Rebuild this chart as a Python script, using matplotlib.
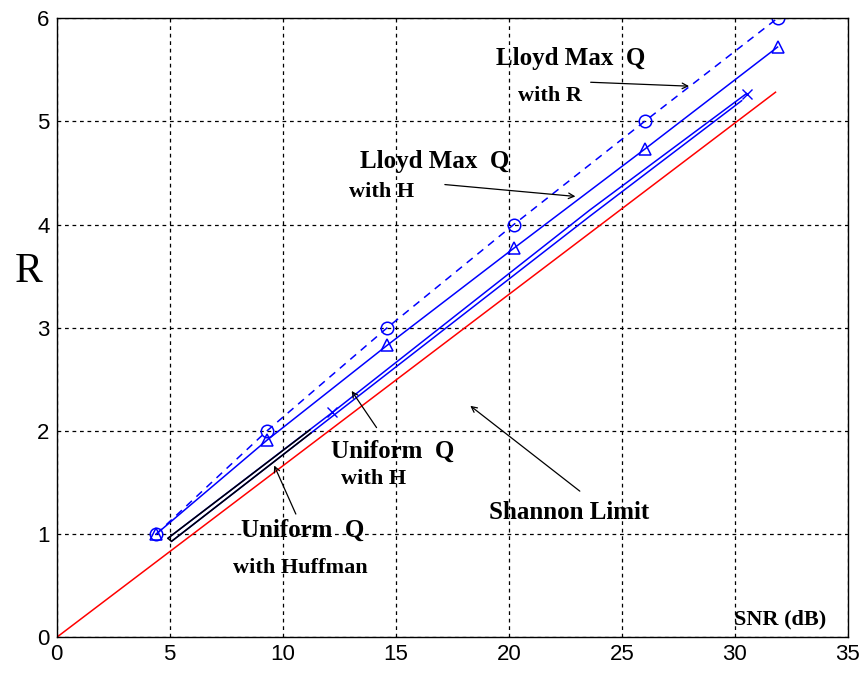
import matplotlib
matplotlib.use('Agg')
import matplotlib.pyplot as plt

# Lloyd-Max quantizer: SNR (dB) for 1..6 bits, fixed rate and entropy
lm_snr = [4.40, 9.30, 14.62, 20.22, 26.01, 31.89]
lm_rate = [1, 2, 3, 4, 5, 6]
lm_entropy = [1.0, 1.91, 2.83, 3.77, 4.73, 5.72]

# uniform quantizer with entropy coding (two curves)
uq_snr = [4.92, 12.2, 23.58, 30.52]
uq_h = [0.96, 2.18, 4.14, 5.27]
uq2_snr = [5.08, 23.58, 30.3]
uq2_h = [0.93, 4.08, 5.20]

# Huffman coded uniform quantizer, low-rate part
huff_snr = [11.2, 4.92, 5.08, 11.25]
huff_r = [2.01, 0.96, 0.93, 1.98]

# Shannon limit R = SNR / 6.02
sh_snr = [0, 31.8]
sh_r = [0, 31.8 / 6.02]

xticks = [0, 5, 10, 15, 20, 25, 30, 35]
yticks = [0, 1, 2, 3, 4, 5, 6]

tick_font = ['Liberation Sans', 'DejaVu Sans']
lab_font = ['Liberation Serif', 'DejaVu Serif']

fig = plt.figure(figsize=(8.59, 6.73), dpi=100)
ax = fig.add_axes([0.066, 0.053, 0.921, 0.920])

blue = '#0000ff'
ax.plot(sh_snr, sh_r, color='#ff0000', lw=1.1)
ax.plot(uq2_snr, uq2_h, color=blue, lw=1.1)
ax.plot(uq_snr, uq_h, color=blue, lw=1.1, marker='x', markersize=7,
        markevery=[1, 3])
ax.plot(huff_snr, huff_r, color='k', lw=1.1)
ax.plot(lm_snr, lm_entropy, color=blue, lw=1.1, marker='^', markersize=9,
        markerfacecolor='none', markeredgewidth=1.1)
ax.plot(lm_snr, lm_rate, color=blue, lw=1.1, linestyle=(0, (5, 4)),
        marker='o', markersize=9, markerfacecolor='none', markeredgewidth=1.1)

ax.set_xlim(0, 35)
ax.set_ylim(0, 6)
ax.set_xticks(xticks)
ax.set_yticks(yticks)
ax.grid(True, color='k', linestyle=(0, (3, 3)), lw=0.9)
ax.tick_params(length=0, labelsize=16, pad=5)
for lab in ax.get_xticklabels() + ax.get_yticklabels():
    lab.set_family(tick_font)
for s in ax.spines.values():
    s.set_linewidth(1.0)

fig.text(29 / 859, 1 - 272 / 673, 'R', family=lab_font, fontsize=30,
         ha='center', va='center')

big = dict(family=lab_font, fontweight='bold', fontsize=18,
           ha='center', va='center')
small = dict(family=lab_font, fontweight='bold', fontsize=16,
             ha='center', va='center')
ax.text(22.76, 5.61, 'Lloyd Max  Q', **big)
ax.text(21.83, 5.25, 'with R', **small)
ax.text(16.74, 4.61, 'Lloyd Max  Q', **big)
ax.text(14.39, 4.32, 'with H', **small)
ax.text(14.85, 1.80, 'Uniform  Q', **big)
ax.text(14.0, 1.53, 'with H', **small)
ax.text(10.9, 1.04, 'Uniform  Q', **big)
ax.text(10.77, 0.675, 'with Huffman', **small)
ax.text(22.67, 1.21, 'Shannon Limit', **big)
ax.text(32.0, 0.17, 'SNR (dB)', family=lab_font, fontweight='bold',
        fontsize=16, ha='center', va='center')

arrow = dict(arrowstyle='->', color='k', lw=0.9)
ax.annotate('', xy=(28.1, 5.34), xytext=(23.5, 5.38), arrowprops=arrow)
ax.annotate('', xy=(23.07, 4.27), xytext=(17.05, 4.39), arrowprops=arrow)
ax.annotate('', xy=(12.98, 2.41), xytext=(14.22, 2.01), arrowprops=arrow)
ax.annotate('', xy=(9.57, 1.69), xytext=(10.63, 1.17), arrowprops=arrow)
ax.annotate('', xy=(18.2, 2.26), xytext=(23.24, 1.40), arrowprops=arrow)

fig.savefig('out.png', dpi=100)
